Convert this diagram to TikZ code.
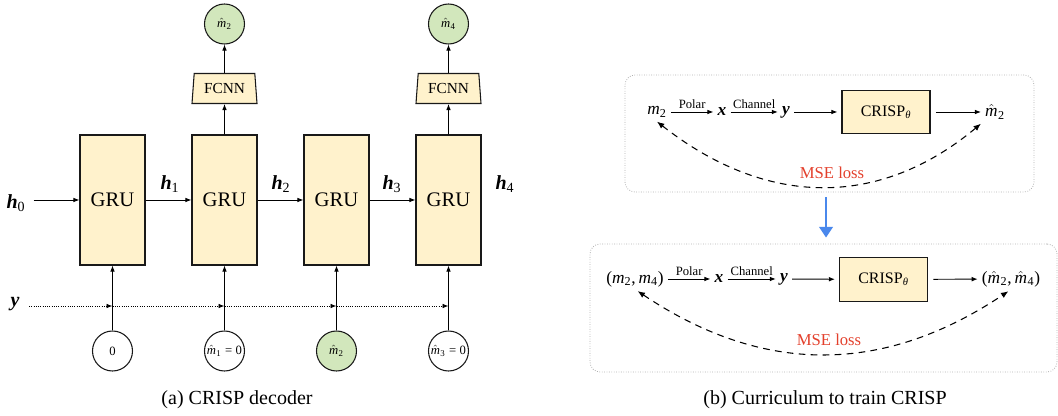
\documentclass[tikz,border=0pt]{standalone}
\usepackage{fontspec}
\setmainfont{Liberation Serif}
\usetikzlibrary{arrows.meta,shapes.geometric}
\definecolor{cream}{HTML}{FFF2CC}
\definecolor{leaf}{HTML}{D2E7BC}
\definecolor{lossred}{HTML}{E3402C}
\definecolor{flowblue}{HTML}{4A88EC}
\definecolor{panelgray}{HTML}{B0B0B0}
\newcommand\fs[1]{\fontsize{#1}{#1}\selectfont}
\newcommand\vm[1]{\textit{m}\textsubscript{#1}}
\newcommand\hm[1]{$\hat{\mbox{\textit{m}}}$\kern0.3pt\textsubscript{#1}}
\newcommand\bh[1]{\textbf{\textit{h}}\textsubscript{#1}}
\newcommand\bv[1]{\textbf{\textit{#1}}}
\begin{document}
\begin{tikzpicture}[x=0.75pt,y=-0.75pt,
  gru/.style={draw=black!90, line width=0.9pt, fill=cream, minimum width=48.75pt, minimum height=97.5pt, inner sep=0pt, font=\fs{15.5}},
  fcnn/.style={trapezium, trapezium angle=78, trapezium stretches body, draw=black!90, line width=0.8pt, fill=cream, minimum width=48.75pt, minimum height=22.5pt, inner sep=0pt, font=\fs{11.5}},
  circ/.style={circle, draw=black!90, line width=0.8pt, minimum size=30pt, inner sep=0pt, font=\fs{9.5}},
  lab/.style={inner sep=0pt, font=\fs{15}},
  rlab/.style={inner sep=3pt, font=\fs{13}},
  crisp/.style={draw=black!90, line width=0.9pt, fill=cream, minimum width=66pt, minimum height=32.5pt, inner sep=0pt, font=\fs{12}},
  conn/.style={-{Latex[length=4.5pt,width=3.5pt]}, line width=0.7pt},
  ydots/.style={-{Latex[length=4.5pt,width=3.5pt]}, line width=0.7pt, dash pattern=on 0.7pt off 1pt},
  small/.style={inner sep=2.5pt, font=\fs{9.5}},
  loss/.style={{Latex[length=5.5pt,width=4.5pt]}-{Latex[length=5.5pt,width=4.5pt]}, line width=0.8pt, dash pattern=on 5pt off 4pt},
  losslab/.style={inner sep=0pt, font=\fs{12.5}, text=lossred},
  panel/.style={draw=panelgray, line width=0.6pt, dash pattern=on 0.6pt off 1.2pt, rounded corners=7.5pt, inner sep=0pt},
  flow/.style={-{Triangle[length=8pt,width=10pt]}, line width=2pt, draw=flowblue, fill=flowblue},
  captext/.style={inner sep=0pt, font=\fs{15}}]
\useasboundingbox (0,0) rectangle (1058,416);

% ---------- (a) CRISP decoder ----------
\node[gru] (g1) at (112.5,200) {GRU};
\node[gru] (g2) at (224.5,200) {GRU};
\node[gru] (g3) at (336.5,200) {GRU};
\node[gru] (g4) at (448.5,200) {GRU};

\node[lab] (h0) at (16,203) {\bh0};
\node[lab] (h1) at (170,184) {\bh1};
\node[lab] (h2) at (281,184) {\bh2};
\node[lab] (h3) at (392,184) {\bh3};
\node[lab] (h4) at (505,184) {\bh4};

\draw[conn, shorten <=6pt] (h0.east |- g1.west) -- (g1.west);
\draw[conn] (g1.east) -- (g2.west);
\draw[conn] (g2.east) -- (g3.west);
\draw[conn] (g3.east) -- (g4.west);

\node[fcnn] (f2) at (224.5,88.5) {FCNN};
\node[fcnn] (f4) at (448.5,88.5) {FCNN};
\node[circ, fill=leaf] (o2) at (224.5,24) {\hm2};
\node[circ, fill=leaf] (o4) at (448.5,24) {\hm4};
\draw[conn] (g2.north) -- (f2.south);
\draw[conn] (f2.north) -- (o2.south);
\draw[conn] (g4.north) -- (f4.south);
\draw[conn] (f4.north) -- (o4.south);

\node[circ, fill=white] (i1) at (112.5,351) {0};
\node[circ, fill=white] (i2) at (224.5,351) {\hm1\;=\;0};
\node[circ, fill=leaf] (i3) at (336.5,351) {\hm2};
\node[circ, fill=white] (i4) at (448.5,351) {\hm3\;=\;0};
\draw[conn] (i1.north) -- (g1.south);
\draw[conn] (i2.north) -- (g2.south);
\draw[conn] (i3.north) -- (g3.south);
\draw[conn] (i4.north) -- (g4.south);

\node[lab] (yl) at (15,304) {\bv{y}};
\coordinate (ys) at (29,306);
\coordinate (d1) at (g1.south |- ys);
\coordinate (d2) at (g2.south |- ys);
\coordinate (d3) at (g3.south |- ys);
\coordinate (d4) at (g4.south |- ys);
\draw[ydots] (ys) -- (d1);
\draw[ydots] (d1) -- (d2);
\draw[ydots] (d2) -- (d3);
\draw[ydots] (d3) -- (d4);

\node[captext] (capa) at (237,400) {(a) CRISP decoder};

% ---------- (b) curriculum ----------
\node[panel, minimum width=306.75pt, minimum height=87.75pt] (pa) at (829.5,133.5) {};
\node[panel, minimum width=350.25pt, minimum height=96pt] (pb) at (823.5,308) {};

\node[rlab] (ma) at (657,112) {\vm2};
\node[rlab] (xa) at (722,112) {\bv{x}};
\node[rlab] (ya) at (786,112) {\bv{y}};
\node[crisp] (ca) at (886,112) {CRISP\textsubscript{\textit{θ}}};
\node[rlab] (oa) at (995,112) {\hm2};
\draw[conn] (ma) -- node[small, above] (pola) {Polar} (xa);
\draw[conn] (xa) -- node[small, above] (cha) {Channel} (ya);
\draw[conn, shorten >=3pt] (ya) -- (ca);
\draw[conn, shorten <=4pt] (ca) -- (oa);
\draw[loss] (ma.south) .. controls (767,208) and (880,208) .. (oa.south west);
\node[losslab] (la) at (832,173) {MSE loss};

\draw[flow, shorten <=3.5pt, shorten >=4.5pt] ([xshift=-2.6pt]pa.south) -- ([xshift=-2.6pt]pa.south |- pb.north);

\node[rlab] (mb) at (635,279) {(\vm2,\,\vm4)};
\node[rlab] (xb) at (719,279) {\bv{x}};
\node[rlab] (yb) at (784,279) {\bv{y}};
\node[crisp] (cb) at (883.5,279.5) {CRISP\textsubscript{\textit{θ}}};
\node[rlab] (ob) at (1011,279) {(\hm2,\,\hm4)};
\draw[conn] (mb) -- node[small, above] (polb) {Polar} (xb);
\draw[conn] (xb) -- node[small, above] (chb) {Channel} (yb);
\draw[conn, shorten >=3pt] (yb) -- (cb);
\draw[conn, shorten <=4pt] (cb) -- (ob);
\draw[loss] ([xshift=2pt]mb.south) .. controls (763,375) and (883,375) .. ([xshift=-2pt]ob.south);
\node[losslab] (lb) at (829,340) {MSE loss};

\node[captext] (capb) at (825,400) {(b) Curriculum to train CRISP};
\end{tikzpicture}
\end{document}
